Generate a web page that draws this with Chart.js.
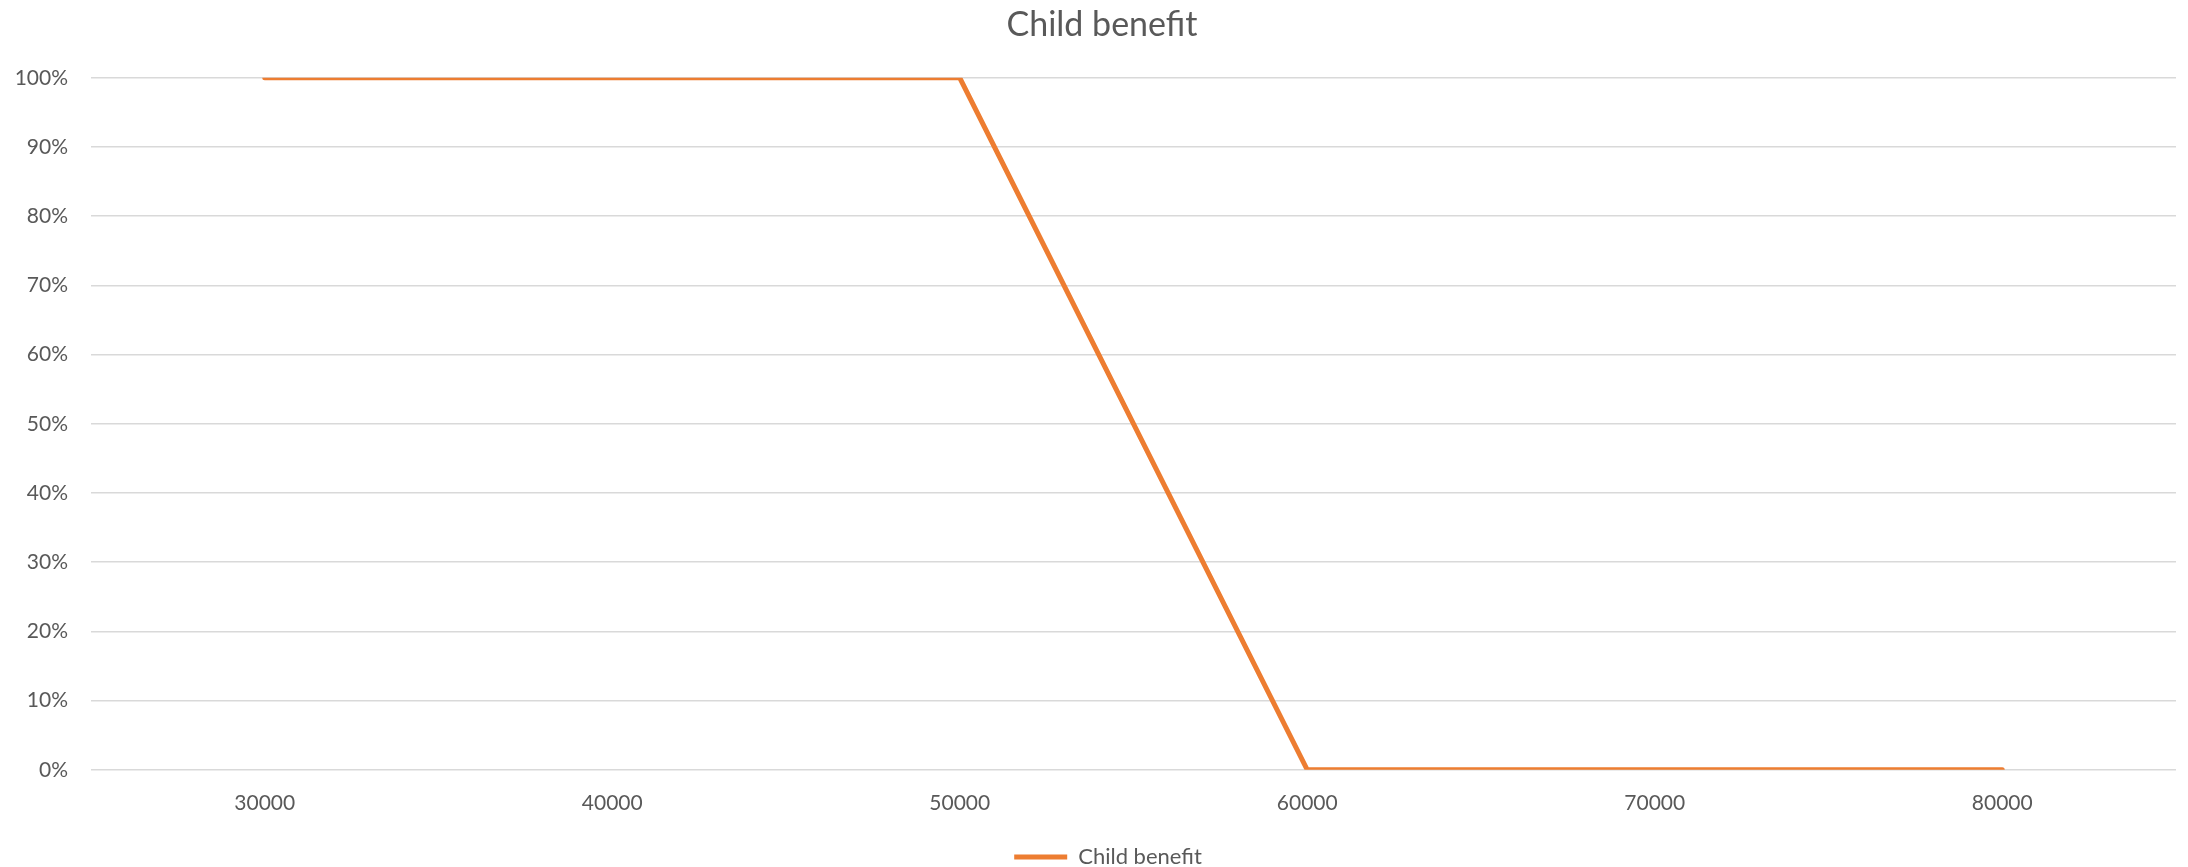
<!DOCTYPE html>
<html>
<head>
<meta charset="utf-8">
<script src="https://cdn.jsdelivr.net/npm/chart.js@4/dist/chart.umd.min.js"></script>
<style>
  html, body { margin: 0; padding: 0; background: #ffffff; }
  #wrap { width: 2188px; height: 867px; position: relative; }
</style>
</head>
<body>
<div id="wrap"><canvas id="chart" width="2188" height="867"></canvas></div>
<script>
// Income levels along the horizontal axis
const incomes = ['30000', '40000', '50000', '60000', '70000', '80000'];
// Share of child benefit kept at each income level (1 = 100%)
const childBenefit = [1, 1, 1, 0, 0, 0];
// Vertical axis tick values
const yTicks = [0, 0.1, 0.2, 0.3, 0.4, 0.5, 0.6, 0.7, 0.8, 0.9, 1];

const TEXT = '#595959';
const GRID = '#d9d9d9';
const ORANGE = '#ED7D31';
const FONT = 'Lato, Carlito, "Open Sans", sans-serif';

Chart.defaults.font.family = FONT;
Chart.defaults.color = TEXT;

// Nudges the title and legend blocks sideways after layout
const nudgeBlocks = {
  id: 'nudgeBlocks',
  afterLayout(chart) {
    if (chart.titleBlock) { chart.titleBlock.left += 14; chart.titleBlock.right += 14; }
    if (chart.legend) { chart.legend.left += 20; chart.legend.right += 20; }
  }
};

new Chart(document.getElementById('chart'), {
  type: 'line',
  data: {
    labels: incomes,
    datasets: [{
      label: 'Child benefit',
      data: childBenefit,
      borderColor: ORANGE,
      backgroundColor: ORANGE,
      borderWidth: 5,
      borderCapStyle: 'round',
      borderJoinStyle: 'miter',
      pointRadius: 0,
      pointHoverRadius: 0,
      tension: 0,
      fill: false
    }]
  },
  plugins: [nudgeBlocks],
  options: {
    responsive: false,
    animation: false,
    layout: { padding: { left: 0, right: 12, top: 0, bottom: -11 } },
    plugins: {
      title: {
        display: true,
        text: 'Child benefit',
        color: TEXT,
        font: { size: 34, weight: 'normal' },
        padding: { top: 5, bottom: 32 }
      },
      legend: {
        display: true,
        position: 'bottom',
        labels: {
          color: TEXT,
          font: { size: 22 },
          boxWidth: 53,
          boxHeight: 5,
          padding: 0,
          generateLabels: (chart) => chart.data.datasets.map((ds, i) => ({
            text: ds.label,
            fillStyle: ds.borderColor,
            strokeStyle: ds.borderColor,
            lineWidth: 0,
            fontColor: TEXT,
            datasetIndex: i
          }))
        }
      },
      tooltip: { enabled: false }
    },
    scales: {
      x: {
        type: 'category',
        offset: true,
        afterFit: (s) => { s.height += 9; },
        grid: { display: false, drawTicks: false },
        border: { display: false },
        ticks: {
          color: TEXT,
          font: { size: 21 },
          padding: 21,
          maxRotation: 0,
          autoSkip: false
        }
      },
      y: {
        min: 0,
        max: 1,
        afterFit: (s) => { s.width = 91; },
        afterBuildTicks: (s) => { s.ticks = yTicks.map(v => ({ value: v })); },
        grid: { color: GRID, lineWidth: 1.5, drawTicks: false },
        border: { display: false },
        ticks: {
          color: TEXT,
          font: { size: 21 },
          padding: 23,
          callback: (v) => Math.round(v * 100) + '%'
        }
      }
    }
  }
});
</script>
</body>
</html>
